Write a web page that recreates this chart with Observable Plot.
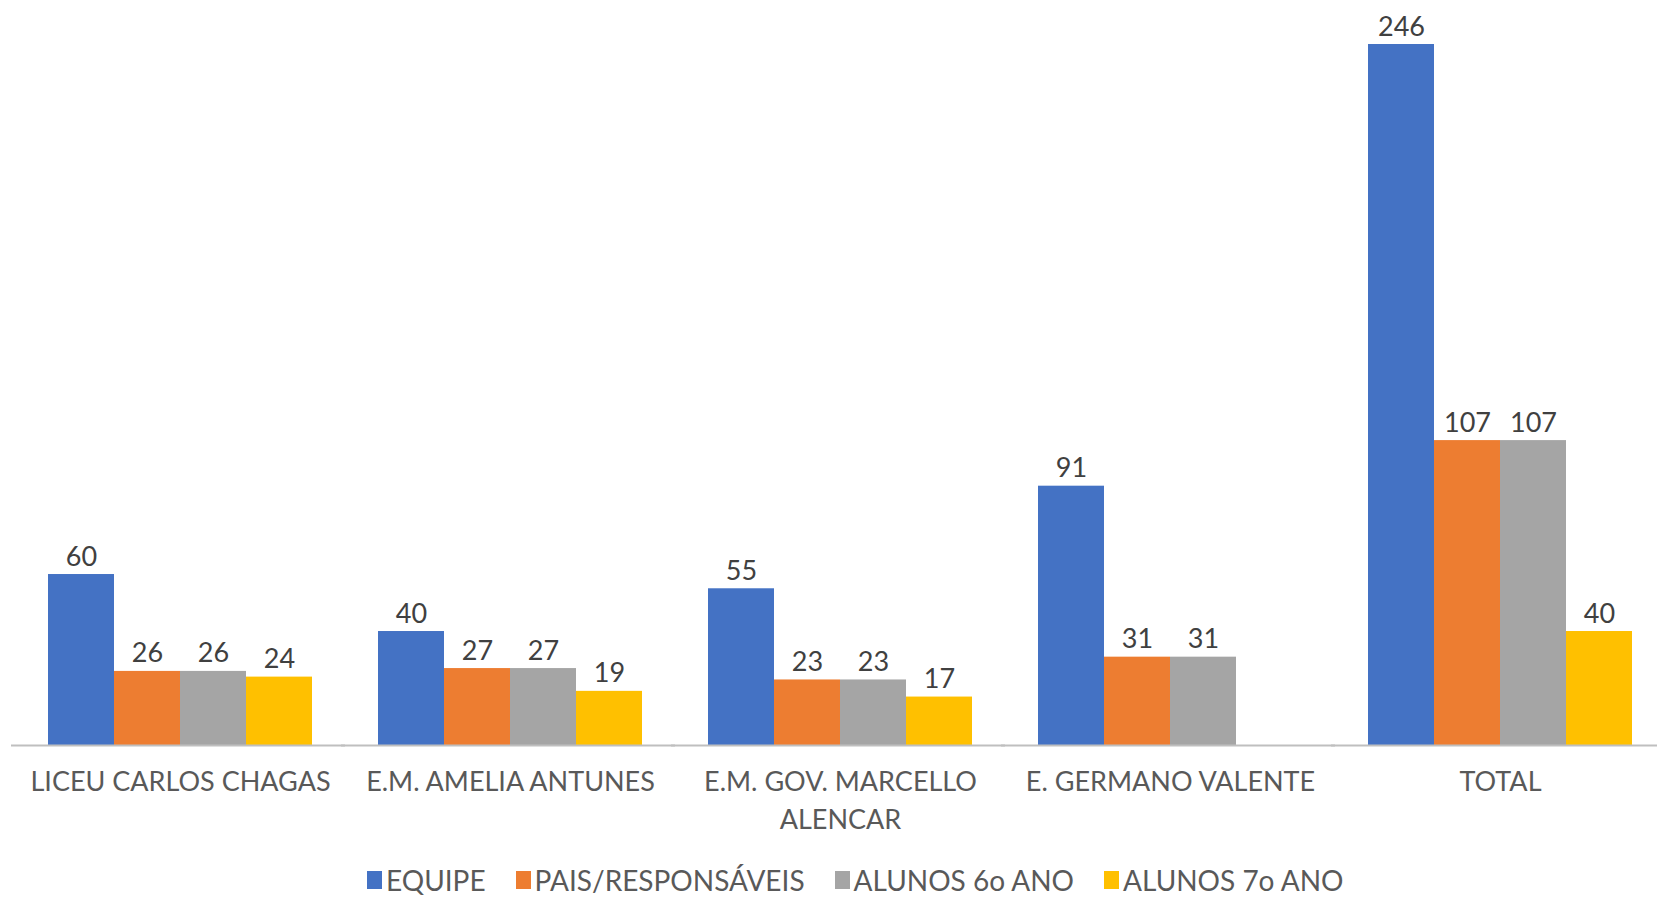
<!DOCTYPE html>
<html>
<head>
<meta charset="utf-8">
<script src="https://cdn.jsdelivr.net/npm/d3@7"></script>
<script src="https://cdn.jsdelivr.net/npm/@observablehq/plot@0.6"></script>
<style>
  html, body { margin: 0; padding: 0; background: #fff; }
  #wrap { position: relative; width: 1657px; height: 898px; overflow: hidden; }
  #legend { position: absolute; top: 865px; left: 367px; display: flex; align-items: center; height: 30px; line-height: 30px;
            font-family: Lato, sans-serif; font-size: 28px; color: #595959; white-space: nowrap; }
  .item { display: flex; align-items: center; margin-right: 30px; }
  .sw { width: 15px; height: 18px; margin-right: 4px; display: inline-block; }
</style>
</head>
<body>
<div id="wrap"><div id="chart"></div><div id="legend"></div></div>
<script>
const schools = ["LICEU CARLOS CHAGAS", "E.M. AMELIA ANTUNES", "E.M. GOV. MARCELLO ALENCAR", "E. GERMANO VALENTE", "TOTAL"];
const schoolLabels = ["LICEU CARLOS CHAGAS", "E.M. AMELIA ANTUNES", "E.M. GOV. MARCELLO\nALENCAR", "E. GERMANO VALENTE", "TOTAL"];
const series = ["EQUIPE", "PAIS/RESPONSÁVEIS", "ALUNOS 6o ANO", "ALUNOS 7o ANO"];
const equipe = [60, 40, 55, 91, 246];
const pais = [26, 27, 23, 31, 107];
const alunos6 = [26, 27, 23, 31, 107];
const alunos7 = [24, 19, 17, null, 40];
const colors = ["#4472C4", "#ED7D31", "#A5A5A5", "#FFC000"];

const valuesBySeries = [equipe, pais, alunos6, alunos7];
const data = [];
schools.forEach((s, i) => {
  series.forEach((k, j) => {
    const v = valuesBySeries[j][i];
    if (v != null) data.push({school: s, series: k, value: v});
  });
});
const labelMap = new Map(schools.map((s, i) => [s, schoolLabels[i]]));

const chart = Plot.plot({
  width: 1657,
  height: 855,
  marginTop: 0, marginLeft: 0, marginRight: 0, marginBottom: 110,
  style: {fontFamily: "Lato, sans-serif", fontSize: "27px", background: "#fff"},
  fx: {domain: schools, range: [15, 1665], paddingInner: 0.2, paddingOuter: 0.1, axis: null},
  x: {domain: series, padding: 0, axis: null},
  y: {domain: [0, 246], range: [745, 44], axis: null},
  color: {domain: series, range: colors},
  marks: [
    Plot.barY(data, {fx: "school", x: "series", y: "value", fill: "series"}),
    Plot.ruleY([0], {stroke: "#bfbfbf", strokeWidth: 2, insetLeft: -37, insetRight: -33}),
    Plot.text(data, {fx: "school", x: "series", y: "value", text: d => String(d.value),
      lineAnchor: "bottom", dy: -9, fill: "#404040", fontSize: 27}),
    Plot.axisFx({anchor: "bottom", tickSize: 0, tickPadding: 18, tickFormat: d => labelMap.get(d),
      fontSize: 27, fill: "#595959", lineHeight: 1.42, label: null})
  ]
});
document.getElementById("chart").appendChild(chart);

const legend = document.getElementById("legend");
series.forEach((s, i) => {
  const item = document.createElement("span");
  item.className = "item";
  const sw = document.createElement("span");
  sw.className = "sw";
  sw.style.background = colors[i];
  item.appendChild(sw);
  item.appendChild(document.createTextNode(s));
  legend.appendChild(item);
});
</script>
</body>
</html>
